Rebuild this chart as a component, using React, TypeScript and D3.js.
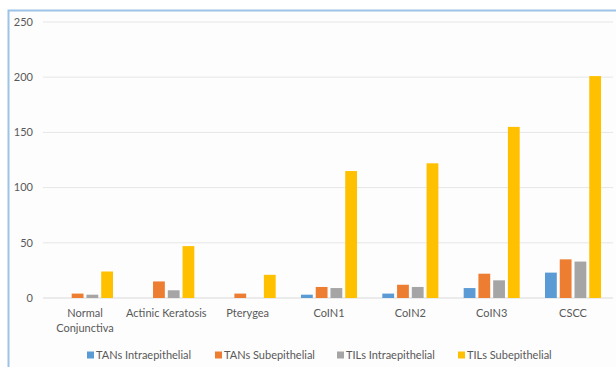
import React from "react";
import * as d3 from "d3";

const categories = ["Normal Conjunctiva", "Actinic Keratosis", "Pterygea", "CoIN1", "CoIN2", "CoIN3", "CSCC"];
const seriesNames = ["TANs Intraepithelial", "TANs Subepithelial", "TILs Intraepithelial", "TILs Subepithelial"];
const tansIntra = [0, 0, 0, 3, 4, 9, 23];
const tansSub = [4, 15, 4, 10, 12, 22, 35];
const tilsIntra = [3, 7, 0, 9, 10, 16, 33];
const tilsSub = [24, 47, 21, 115, 122, 155, 201];
const yTicks = [0, 50, 100, 150, 200, 250];
const colors = ["#5B9BD5", "#ED7D31", "#A5A5A5", "#FFC000"];

const seriesValues = [tansIntra, tansSub, tilsIntra, tilsSub];

export default function App() {
  const W = 616, H = 367;
  const x0 = d3.scaleBand<string>().domain(categories).range([44.3, 613.7]).paddingInner(0.311).paddingOuter(0.1555);
  const x1 = d3.scaleBand<string>().domain(seriesNames).range([0, x0.bandwidth()]).paddingInner(0.2).paddingOuter(0);
  const y = d3.scaleLinear().domain([0, 250]).range([298, 22]);
  const font = "Lato, 'Open Sans', sans-serif";
  const txt = "#595959";

  const legendX = [87, 215, 337, 458];

  return (
    <svg width={W} height={H} style={{ position: "absolute", left: 0, top: 0, background: "#fdfdfd" }} fontFamily={font}>
      <rect x={0} y={0} width={W} height={H} fill="#ffffff" />
      <rect x={8.5} y={10.5} width={W + 10} height={H + 10} fill="#fdfdfd" stroke="#9DC3E6" strokeWidth={2} />
      {yTicks.map((t) => (
        <g key={t}>
          <line x1={43} x2={613} y1={y(t)} y2={y(t)} stroke={t === 0 ? "#d9d9d9" : "#e6e6e6"} strokeWidth={1} />
          <text x={33} y={y(t)} dy="0.35em" textAnchor="end" fontSize={11} fill={txt}>{t}</text>
        </g>
      ))}
      {categories.map((c, ci) => (
        <g key={c} transform={`translate(${x0(c)},0)`}>
          {seriesNames.map((s, si) => {
            const v = seriesValues[si][ci];
            if (!v) return null;
            return <rect key={s} x={x1(s)} y={y(v)} width={x1.bandwidth()} height={y(0) - y(v)} fill={colors[si]} />;
          })}
        </g>
      ))}
      {categories.map((c) => {
        const cx = (x0(c) as number) + x0.bandwidth() / 2;
        const lines = c === "Normal Conjunctiva" ? ["Normal", "Conjunctiva"] : [c];
        return (
          <text key={c} x={cx} y={317} textAnchor="middle" fontSize={11} fill={txt}>
            {lines.map((l, i) => (
              <tspan key={l} x={cx} dy={i === 0 ? 0 : 15}>{l}</tspan>
            ))}
          </text>
        );
      })}
      {seriesNames.map((s, i) => (
        <g key={s} transform={`translate(${legendX[i]},355)`}>
          <rect x={0} y={-3.5} width={7} height={7} fill={colors[i]} />
          <text x={9} y={0} dy="0.35em" fontSize={11} fill={txt}>{s}</text>
        </g>
      ))}
    </svg>
  );
}
